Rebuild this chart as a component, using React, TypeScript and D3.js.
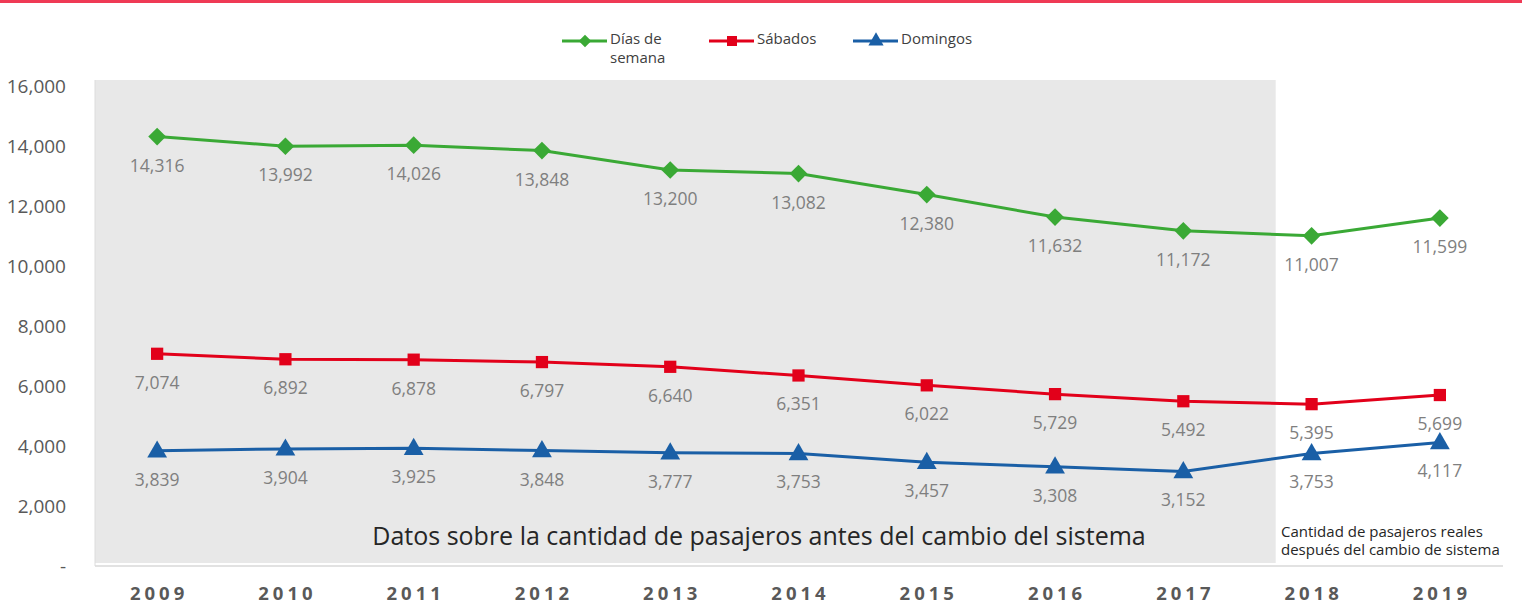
import React from "react";
import * as d3 from "d3";

const years = ["2009", "2010", "2011", "2012", "2013", "2014", "2015", "2016", "2017", "2018", "2019"];
const weekdays = [14316, 13992, 14026, 13848, 13200, 13082, 12380, 11632, 11172, 11007, 11599];
const saturdays = [7074, 6892, 6878, 6797, 6640, 6351, 6022, 5729, 5492, 5395, 5699];
const sundays = [3839, 3904, 3925, 3848, 3777, 3753, 3457, 3308, 3152, 3753, 4117];
const yTicks = [0, 2000, 4000, 6000, 8000, 10000, 12000, 14000, 16000];

const seriesNames = ["Días de semana", "Sábados", "Domingos"];
const seriesColors = ["#3aa935", "#e2001a", "#1a5fa6"];
const seriesShapes = [d3.symbolDiamond2, d3.symbolSquare, d3.symbolTriangle];

const W = 1522;
const H = 605;
const font = "'Open Sans', 'Noto Sans', sans-serif";

const App = () => {
  const margin = { top: 80, right: 19, bottom: 39, left: 95 };
  const plotBottom = 566;

  const x = d3.scalePoint<string>().domain(years).range([93, 1504]).padding(0.5);
  const y = d3.scaleLinear().domain([0, 16000]).range([566, 86]);
  const step = x.step();

  const series = [weekdays, saturdays, sundays];
  const line = d3
    .line<number>()
    .x((_, i) => x(years[i]) as number)
    .y((d) => y(d));

  const fmt = d3.format(",");
  const grayEnd = (x("2017") as number) + step * 0.72;

  // legend positions
  const legendX = [562, 709, 853];

  return (
    <div style={{ position: "absolute", left: 0, top: 0 }}>
      <svg width={W} height={H} style={{ display: "block", fontFamily: font }}>
        <rect x={0} y={0} width={W} height={H} fill="#fff" />
        <rect x={0} y={0} width={W} height={3} fill="#ef3a55" />

        {/* shaded "before" area */}
        <rect x={margin.left} y={margin.top} width={grayEnd - margin.left} height={plotBottom - margin.top - 3} fill="#e8e8e8" />
        <line x1={margin.left} x2={margin.left} y1={margin.top} y2={plotBottom} stroke="#dcdcdc" strokeWidth={1} />
        <line x1={margin.left} x2={W - margin.right} y1={566} y2={566} stroke="#d9d9d9" strokeWidth={1.5} />

        {/* y axis */}
        {yTicks.map((t) => (
          <text key={t} x={66} y={y(t) + 7} textAnchor="end" fontSize={19} fill="#595959">
            {t === 0 ? "-" : fmt(t)}
          </text>
        ))}

        {/* x axis */}
        {years.map((yr) => (
          <text
            key={yr}
            x={(x(yr) as number) + 2}
            y={600}
            textAnchor="middle"
            fontSize={18.5}
            fontWeight="bold"
            letterSpacing={4}
            fill="#595959"
          >
            {yr}
          </text>
        ))}

        {/* lines */}
        {series.map((s, si) => (
          <g key={si}>
            <path d={line(s) as string} fill="none" stroke={seriesColors[si]} strokeWidth={3} />
            {s.map((v, i) => (
              <path
                key={i}
                d={d3.symbol().type(seriesShapes[si]).size(si === 1 ? 150 : si === 0 ? 200 : 170)() as string}
                transform={`translate(${x(years[i])},${y(v) + (si === 2 ? 1 : 0)})`}
                fill={seriesColors[si]}
              />
            ))}
            {s.map((v, i) => (
              <text
                key={"l" + i}
                x={x(years[i]) as number}
                y={y(v) + 35}
                textAnchor="middle"
                fontSize={17.5}
                fill="#7f7f7f"
              >
                {fmt(v)}
              </text>
            ))}
          </g>
        ))}

        {/* annotations */}
        <text x={759} y={545} textAnchor="middle" fontSize={25} fill="#262626">
          Datos sobre la cantidad de pasajeros antes del cambio del sistema
        </text>
        <text x={1281} y={537} fontSize={15} fill="#262626">
          Cantidad de pasajeros reales
        </text>
        <text x={1281} y={555} fontSize={15} fill="#262626">
          después del cambio de sistema
        </text>

        {/* legend */}
        {seriesNames.map((n, i) => {
          const lx = legendX[i];
          const words = i === 0 ? ["Días de", "semana"] : [n];
          return (
            <g key={n}>
              <line x1={lx} x2={lx + 45} y1={41} y2={41} stroke={seriesColors[i]} strokeWidth={3} />
              <path
                d={d3.symbol().type(seriesShapes[i]).size(100)() as string}
                transform={`translate(${lx + 23},${41})`}
                fill={seriesColors[i]}
              />
              {words.map((w, k) => (
                <text key={w} x={lx + 48} y={44 + k * 19} fontSize={15} fill="#404040">
                  {w}
                </text>
              ))}
            </g>
          );
        })}
      </svg>
    </div>
  );
};

export default App;
